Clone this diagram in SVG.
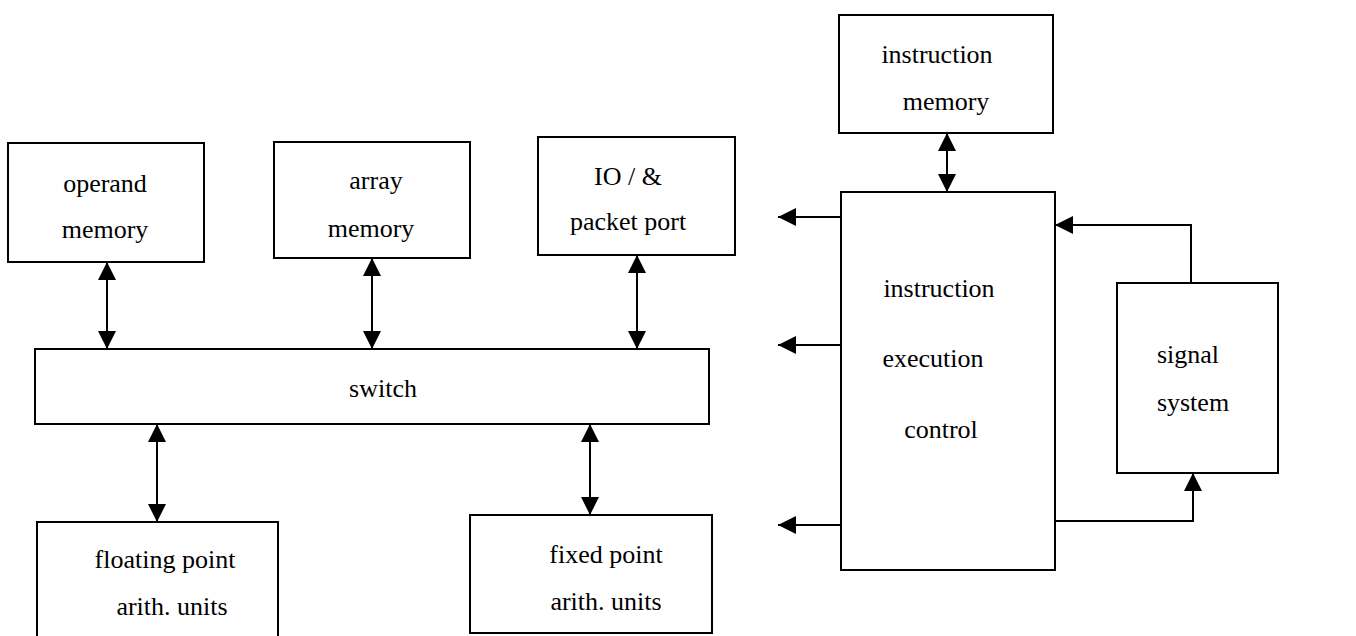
<svg xmlns="http://www.w3.org/2000/svg" width="1356" height="636" viewBox="0 0 1356 636">
<style>
.box{fill:#fff;stroke:#000;stroke-width:2}
.t{font-family:"Liberation Serif","Times New Roman",serif;font-size:26px;fill:#000;text-anchor:middle}
.c{fill:none;stroke:#000;stroke-width:2}
</style>
<defs>
<marker id="ah" viewBox="0 0 18 18" refX="18" refY="9" markerWidth="18" markerHeight="18" markerUnits="userSpaceOnUse" orient="auto-start-reverse">
<path d="M0,0 L18,9 L0,18 z" fill="#000"/>
</marker>
</defs>
<rect width="1356" height="636" fill="#fff"/>
<g id="operand-memory"><rect class="box" x="8" y="143" width="196" height="119"/><text class="t" x="105" y="192">operand</text><text class="t" x="105" y="238">memory</text></g>
<g id="array-memory"><rect class="box" x="274" y="142" width="196" height="116"/><text class="t" x="376" y="189">array</text><text class="t" x="371" y="237">memory</text></g>
<g id="io-port"><rect class="box" x="538" y="137" width="197" height="118"/><text class="t" x="628" y="185">IO / &amp;</text><text class="t" x="628" y="230">packet port</text></g>
<g id="switch"><rect class="box" x="35" y="349" width="674" height="75"/><text class="t" x="383" y="397">switch</text></g>
<g id="floating-point"><rect class="box" x="37" y="522" width="241" height="116"/><text class="t" x="165" y="568">floating point</text><text class="t" x="172" y="615">arith. units</text></g>
<g id="fixed-point"><rect class="box" x="470" y="515" width="242" height="118"/><text class="t" x="606" y="563">fixed point</text><text class="t" x="606" y="610">arith. units</text></g>
<g id="instruction-memory"><rect class="box" x="839" y="15" width="214" height="118"/><text class="t" x="937" y="63">instruction</text><text class="t" x="946" y="110">memory</text></g>
<g id="instruction-execution-control"><rect class="box" x="841" y="192" width="214" height="378"/><text class="t" x="939" y="297">instruction</text><text class="t" x="933" y="367">execution</text><text class="t" x="941" y="438">control</text></g>
<g id="signal-system"><rect class="box" x="1117" y="283" width="161" height="190"/><text class="t" x="1188" y="363">signal</text><text class="t" x="1193" y="411">system</text></g>
<g id="connectors">
<line class="c" x1="107" y1="262" x2="107" y2="349" marker-start="url(#ah)" marker-end="url(#ah)"/>
<line class="c" x1="372" y1="258" x2="372" y2="349" marker-start="url(#ah)" marker-end="url(#ah)"/>
<line class="c" x1="637" y1="255" x2="637" y2="349" marker-start="url(#ah)" marker-end="url(#ah)"/>
<line class="c" x1="157" y1="424" x2="157" y2="522" marker-start="url(#ah)" marker-end="url(#ah)"/>
<line class="c" x1="590" y1="424" x2="590" y2="515" marker-start="url(#ah)" marker-end="url(#ah)"/>
<line class="c" x1="947" y1="133" x2="947" y2="192" marker-start="url(#ah)" marker-end="url(#ah)"/>
<line class="c" x1="841" y1="217" x2="778" y2="217" marker-end="url(#ah)"/>
<line class="c" x1="841" y1="345" x2="778" y2="345" marker-end="url(#ah)"/>
<line class="c" x1="841" y1="525" x2="778" y2="525" marker-end="url(#ah)"/>
<polyline class="c" points="1191,283 1191,225 1055,225" marker-end="url(#ah)"/>
<polyline class="c" points="1055,521 1193,521 1193,473" marker-end="url(#ah)"/>
</g>
</svg>
